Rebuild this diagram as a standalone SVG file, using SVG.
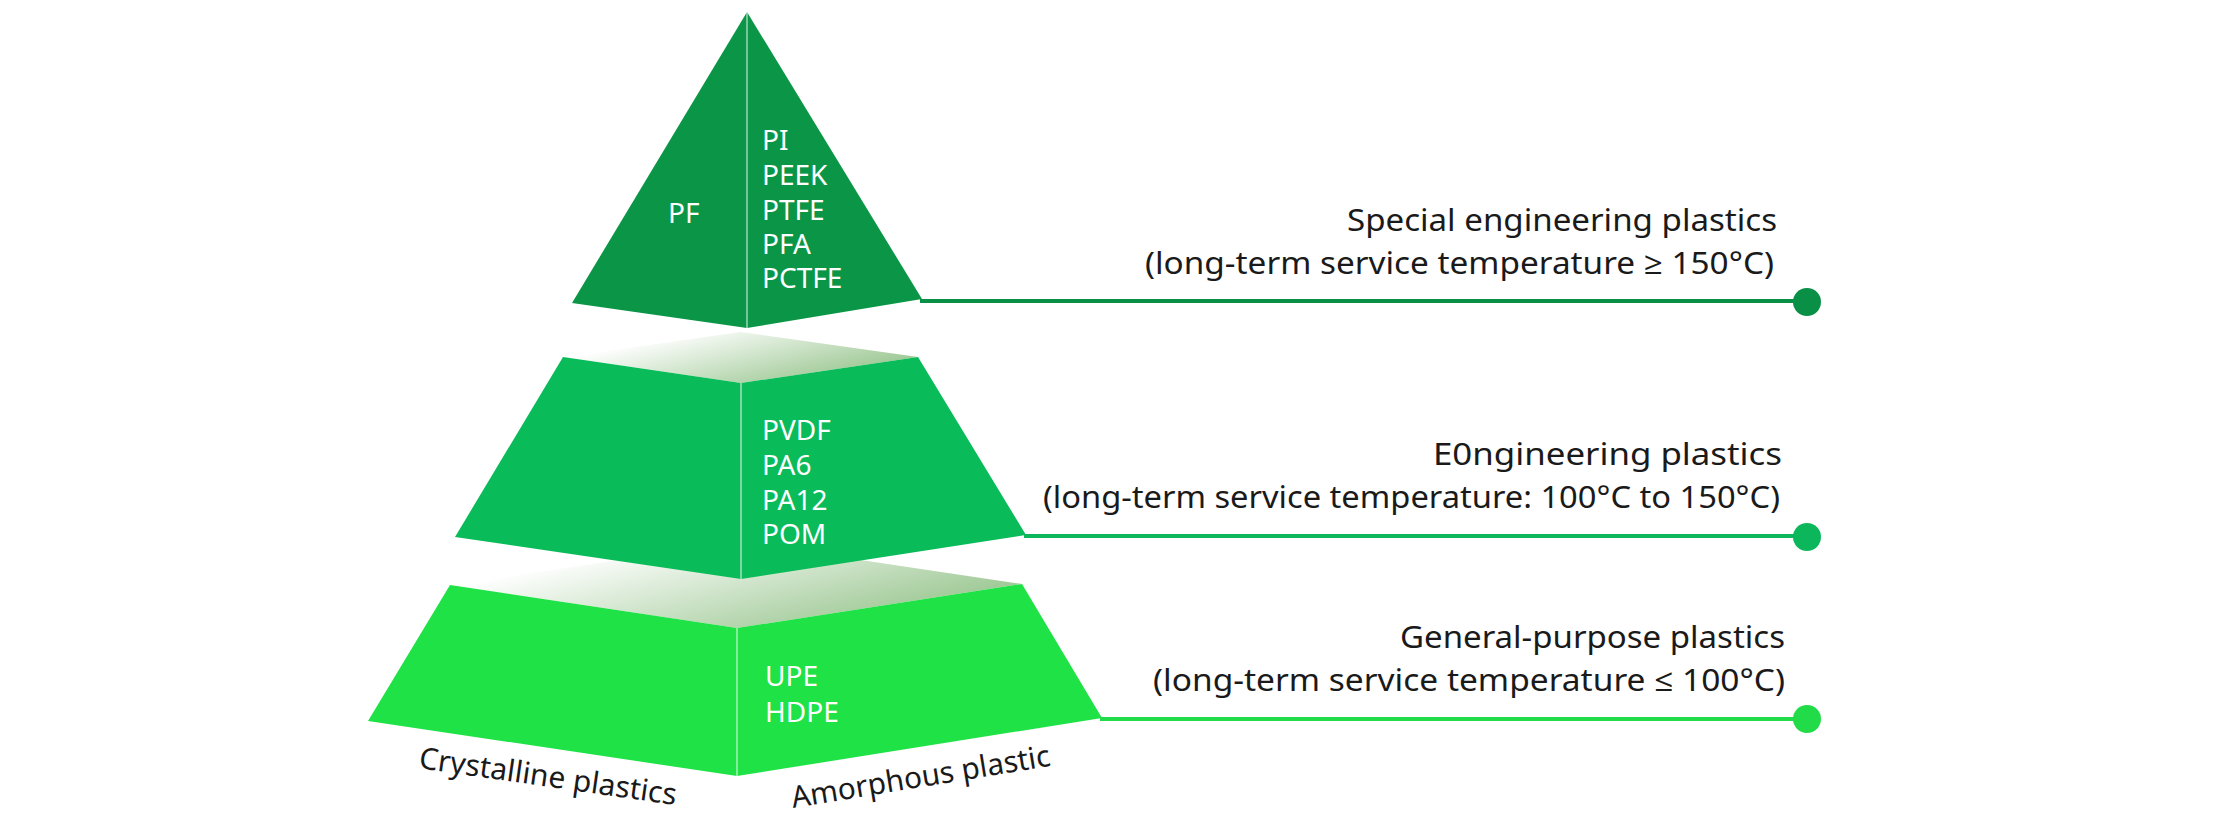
<svg xmlns="http://www.w3.org/2000/svg" width="2236" height="816" viewBox="0 0 2236 816">
<style>
.lbl{font-family:"Noto Sans","Open Sans","Liberation Sans",sans-serif;font-size:28px;fill:#ffffff}
.cap{font-family:"Noto Sans","Open Sans","Liberation Sans",sans-serif;font-size:31px;fill:#1a1a1a}
.side{font-family:"Noto Sans","Open Sans","Liberation Sans",sans-serif;font-size:30px;fill:#1a1a1a}
.div{stroke:#ffffff;stroke-opacity:0.6;stroke-width:1.5}
.conn{stroke-width:4;fill:none}
</style>
<defs>
<linearGradient id="topface" gradientUnits="objectBoundingBox" x1="0" y1="0.2" x2="1" y2="0.8">
<stop offset="0.15" stop-color="#ffffff"/>
<stop offset="1" stop-color="#8dbf82"/>
</linearGradient>
</defs>
<rect width="2236" height="816" fill="#ffffff"/>

<g id="tier-bottom">
<polygon points="450,585 741,542 1022,584 737,628" fill="url(#topface)"/>
<polygon points="450,585 737,628 1022,584 1102,718 737,776 368,721" fill="#1fe246"/>
<line class="div" x1="737" y1="628" x2="737" y2="776"/>
<text class="lbl" x="765" y="686">UPE<tspan x="765" y="722">HDPE</tspan></text>
</g>

<g id="tier-middle">
<polygon points="563,357 741,332 918,357 741,383" fill="url(#topface)"/>
<polygon points="563,357 741,383 918,357 1026,535 741,579 455,537" fill="#0abb5a"/>
<line class="div" x1="741" y1="383" x2="741" y2="579"/>
<text class="lbl" x="762" y="440">PVDF<tspan x="762" y="475">PA6</tspan><tspan x="762" y="510">PA12</tspan><tspan x="762" y="544">POM</tspan></text>
</g>

<g id="tier-top">
<polygon points="747,12 922,299 747,328 572,303" fill="#0a9646"/>
<line class="div" x1="747" y1="12" x2="747" y2="328"/>
<text class="lbl" x="668" y="223">PF</text>
<text class="lbl" x="762" y="150">PI<tspan x="762" y="185">PEEK</tspan><tspan x="762" y="220">PTFE</tspan><tspan x="762" y="254">PFA</tspan><tspan x="762" y="288">PCTFE</tspan></text>
</g>

<g id="connectors">
<line class="conn" x1="920" y1="301" x2="1807" y2="301" stroke="#0a9046"/>
<circle cx="1807" cy="302" r="14" fill="#0a9046"/>
<line class="conn" x1="1024" y1="536" x2="1807" y2="536" stroke="#0bb75a"/>
<circle cx="1807" cy="537" r="14" fill="#0bb75a"/>
<line class="conn" x1="1100" y1="719" x2="1807" y2="719" stroke="#22db48"/>
<circle cx="1807" cy="719" r="14" fill="#22db48"/>
</g>

<g id="label-special">
<text class="cap"><tspan x="1347" y="231" textLength="430" lengthAdjust="spacingAndGlyphs">Special engineering plastics</tspan><tspan x="1145" y="274" textLength="629" lengthAdjust="spacingAndGlyphs">(long-term service temperature ≥ 150°C)</tspan></text>
</g>
<g id="label-engineering">
<text class="cap"><tspan x="1433" y="465" textLength="349" lengthAdjust="spacingAndGlyphs">E0ngineering plastics</tspan><tspan x="1043" y="508" textLength="737" lengthAdjust="spacingAndGlyphs">(long-term service temperature: 100°C to 150°C)</tspan></text>
</g>
<g id="label-general">
<text class="cap"><tspan x="1400" y="648" textLength="385" lengthAdjust="spacingAndGlyphs">General-purpose plastics</tspan><tspan x="1153" y="691" textLength="632" lengthAdjust="spacingAndGlyphs">(long-term service temperature ≤ 100°C)</tspan></text>
</g>

<g id="side-labels">
<text class="side" transform="translate(418,768) rotate(8.2)" textLength="260" lengthAdjust="spacingAndGlyphs">Crystalline plastics</text>
<text class="side" transform="translate(793,808) rotate(-9.3)" textLength="262" lengthAdjust="spacingAndGlyphs">Amorphous plastic</text>
</g>
</svg>
